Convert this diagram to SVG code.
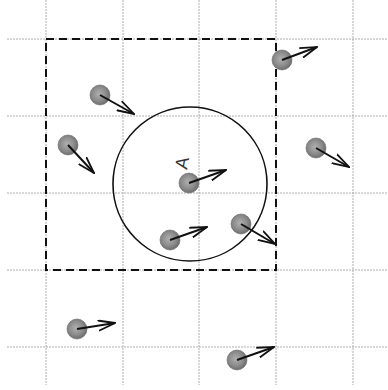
<svg xmlns="http://www.w3.org/2000/svg" width="388" height="390" viewBox="0 0 388 390">
<style>
.grid{stroke:#999;stroke-width:0.8;stroke-dasharray:2,1;fill:none}
.box{stroke:#111;stroke-width:2;stroke-dasharray:8,5;fill:none}
.ball{fill:url(#g);stroke:#666;stroke-width:0.6}
.arr{stroke:#111;stroke-width:2;fill:none;marker-end:url(#ah)}
</style>
<defs>
<radialGradient id="g" cx="0.45" cy="0.45" r="0.6">
<stop offset="0" stop-color="#b0b0b0"/>
<stop offset="0.6" stop-color="#8a8a8a"/>
<stop offset="1" stop-color="#666"/>
</radialGradient>
<marker id="ah" viewBox="0 0 18 12" refX="17" refY="6" markerWidth="18" markerHeight="12" markerUnits="userSpaceOnUse" orient="auto">
<path d="M0,0.8 L17,6 L0,11.2" fill="none" stroke="#111" stroke-width="1.8"/>
</marker>
</defs>
<rect width="388" height="390" fill="#fff"/>
<g id="grid">
<line class="grid" x1="7" y1="39" x2="388" y2="39"/>
<line class="grid" x1="7" y1="116" x2="388" y2="116"/>
<line class="grid" x1="7" y1="193" x2="388" y2="193"/>
<line class="grid" x1="7" y1="270" x2="388" y2="270"/>
<line class="grid" x1="7" y1="347" x2="388" y2="347"/>
<line class="grid" x1="46" y1="0" x2="46" y2="385"/>
<line class="grid" x1="123" y1="0" x2="123" y2="385"/>
<line class="grid" x1="199" y1="0" x2="199" y2="385"/>
<line class="grid" x1="276" y1="0" x2="276" y2="385"/>
<line class="grid" x1="353" y1="0" x2="353" y2="385"/>
</g>
<rect id="cell" class="box" x="46" y="39" width="230" height="231"/>
<circle id="range" cx="190" cy="184" r="77" fill="none" stroke="#111" stroke-width="1.6"/>
<g id="p1"><circle class="ball" cx="282" cy="60" r="10"/></g>
<g id="p2"><circle class="ball" cx="100" cy="95" r="10"/></g>
<g id="p3"><circle class="ball" cx="68" cy="145" r="10"/></g>
<g id="p4"><circle class="ball" cx="316" cy="148" r="10"/></g>
<g id="pA"><circle class="ball" cx="189" cy="183" r="10"/>
<text x="188" y="164" font-family="Liberation Sans, sans-serif" font-size="18" fill="#333" transform="rotate(-80 188 164)" text-anchor="middle">A</text></g>
<g id="p6"><circle class="ball" cx="241" cy="224" r="10"/></g>
<g id="p7"><circle class="ball" cx="170" cy="240" r="10"/></g>
<g id="p8"><circle class="ball" cx="77" cy="329" r="10"/></g>
<g id="p9"><circle class="ball" cx="237" cy="360" r="10"/></g>
<g id="connectors">
<line class="arr" x1="282" y1="60" x2="317" y2="47"/>
<line class="arr" x1="100" y1="95" x2="134" y2="114"/>
<line class="arr" x1="68" y1="145" x2="94" y2="173"/>
<line class="arr" x1="316" y1="148" x2="349" y2="167"/>
<line class="arr" x1="189" y1="183" x2="226" y2="170"/>
<line class="arr" x1="241" y1="224" x2="275" y2="244"/>
<line class="arr" x1="170" y1="240" x2="207" y2="227"/>
<line class="arr" x1="77" y1="329" x2="115" y2="323"/>
<line class="arr" x1="237" y1="360" x2="274" y2="347"/>
</g>
</svg>
